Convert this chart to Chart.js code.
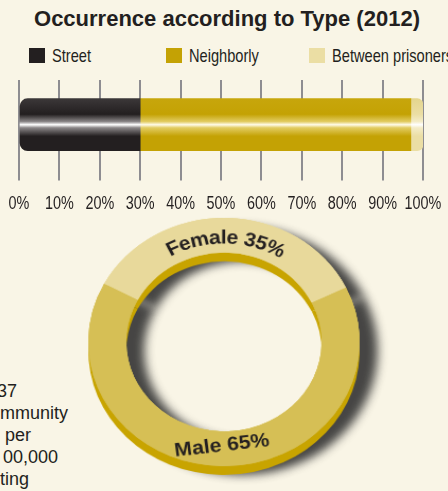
<!DOCTYPE html>
<html>
<head>
<meta charset="utf-8">
<script src="https://cdn.jsdelivr.net/npm/chart.js@4.4.1/dist/chart.umd.min.js"></script>
<style>
  html, body { margin: 0; padding: 0; }
  body { width: 448px; height: 491px; background: #f9f5e6; position: relative; overflow: hidden;
         font-family: "Liberation Sans", Arial, sans-serif; color: #231f20; }
  #title { position: absolute; top: 6px; left: 0; width: 454px; text-align: center;
           font-weight: bold; font-size: 22px; line-height: 26px; }
  .leg { position: absolute; top: 48px; height: 15px; white-space: nowrap; }
  .leg i { position: absolute; left: 0; top: 0; width: 16px; height: 15px; }
  .leg span { position: absolute; left: 23px; top: -3px; font-size: 19px; line-height: 22px;
              transform: scaleX(0.77); transform-origin: 0 0; }
  #barBox { position: absolute; left: 0; top: 78px; width: 448px; height: 147px; }
  #ringBox { position: absolute; left: 0; top: 205px; width: 448px; height: 286px;
             transform: scale(1.06, 0.97); transform-origin: 225px 137px; }
  #side { position: absolute; left: 0; top: 380px; font-size: 18px; line-height: 22px; white-space: pre; }
</style>
</head>
<body>
<div id="title"></div>
<div id="legend"></div>
<div id="side"></div>
<div id="barBox"><canvas id="typeChart"></canvas></div>
<div id="ringBox"><canvas id="genderChart"></canvas></div>
<script>
// data
var titleText = 'Occurrence according to Type (2012)';
var years = ['2012'];
var typeLabels = ['Street', 'Neighborly', 'Between prisoners'];
var typeShares = [30, 67, 3];
var typeColors = ['#231f20', '#c4a204', '#ebdea4'];
var tickValues = [0, 10, 20, 30, 40, 50, 60, 70, 80, 90, 100];

var genderLabels = ['Female', 'Male'];
var genderShares = [35, 65];
var genderColors = ['#e8d99b', '#d6bf55'];

var sideLines = ['37', 'mmunity', ' per', '00,000', 'ting'];

// texts around the charts
document.getElementById('title').textContent = titleText;
var legendLeft = [29, 166, 309];
var legendHtml = '';
typeLabels.forEach(function (l, i) {
    legendHtml += '<div class="leg" style="left:' + legendLeft[i] + 'px"><i style="background:' +
        typeColors[i] + '"></i><span>' + l + '</span></div>';
});
document.getElementById('legend').innerHTML = legendHtml;
var sideShift = [-3, 0, 0, 3, 0];
document.getElementById('side').innerHTML = sideLines.map(function (s, i) {
    return '<div style="margin-left:' + sideShift[i] + 'px">' + s + '</div>';
}).join('');

var shine = [
    ['#3b3738', '#231f20', '#8a8687', '#ffffff'],
    ['#c7a60c', '#c4a204', '#e2cc62', '#fffbe8'],
    ['#e4d58e', '#ebdea4', '#f4ecc8', '#ffffff']
];

function cylinder(i) {
    return function (c) {
        var chart = c.chart;
        var area = chart.chartArea;
        if (!area) return typeColors[i];
        var yc = chart.scales.y.getPixelForValue(0);
        var g = chart.ctx.createLinearGradient(0, yc - 26, 0, yc + 26);
        var s = shine[i];
        g.addColorStop(0, s[0]);
        g.addColorStop(0.3, s[1]);
        g.addColorStop(0.44, s[2]);
        g.addColorStop(0.5, s[3]);
        g.addColorStop(0.56, s[2]);
        g.addColorStop(0.72, s[1]);
        g.addColorStop(1, s[1]);
        return g;
    };
}

function pct(v) { return v + '%'; }

// condensed tick labels (no narrow font installed, so squeeze them)
var narrowTicks = {
    id: 'narrowTicks',
    afterDraw: function (chart) {
        var xs = chart.scales.x;
        var ctx = chart.ctx;
        ctx.save();
        ctx.fillStyle = '#231f20';
        ctx.font = '18px "Liberation Sans", Arial, sans-serif';
        ctx.textAlign = 'center';
        ctx.textBaseline = 'alphabetic';
        var base = chart.chartArea.bottom + 40;
        xs.ticks.forEach(function (t, i) {
            ctx.save();
            ctx.translate(xs.getPixelForTick(i), base);
            ctx.scale(0.8, 1);
            ctx.fillText(pct(t.value), 0, 0);
            ctx.restore();
        });
        ctx.restore();
    }
};

new Chart(document.getElementById('typeChart').getContext('2d'), {
    type: 'bar',
    data: {
        labels: years,
        datasets: typeLabels.map(function (l, i) {
            return {
                label: l,
                data: [typeShares[i]],
                backgroundColor: cylinder(i),
                barThickness: 52,
                borderSkipped: false,
                borderRadius: i === 0 ? { topLeft: 8, bottomLeft: 8 } :
                              i === 2 ? { topRight: 10, bottomRight: 10 } : 0
            };
        })
    },
    options: {
        indexAxis: 'y',
        responsive: true,
        maintainAspectRatio: false,
        animation: false,
        layout: { padding: { left: 19, right: 25, top: 2, bottom: 3 } },
        plugins: { legend: { display: false }, title: { display: false }, tooltip: { enabled: false } },
        scales: {
            x: {
                stacked: true,
                min: 0,
                max: 100,
                afterBuildTicks: function (axis) {
                    axis.ticks = tickValues.map(function (v) { return { value: v }; });
                },
                afterFit: function (axis) {
                    axis.paddingLeft = 0;
                    axis.paddingRight = 0;
                },
                ticks: {
                    callback: pct,
                    font: { family: '"Liberation Sans", Arial, sans-serif', size: 18 },
                    color: 'rgba(0,0,0,0)',
                    padding: 10,
                    autoSkip: false,
                    maxRotation: 0
                },
                grid: { color: '#8e8d91', lineWidth: 2, tickLength: 11 },
                border: { display: false }
            },
            y: { stacked: true, display: false }
        }
    },
    plugins: [narrowTicks]
});

// ring drawn with depth and a drop shadow
var ringDepth = {
    id: 'ringDepth',
    beforeDatasetsDraw: function (chart) {
        var ctx = chart.ctx;
        var arcs = chart.getDatasetMeta(0).data;
        ctx.save();
        ctx.shadowColor = 'rgba(50,50,50,0.9)';
        ctx.shadowOffsetX = 17;
        ctx.shadowOffsetY = 9;
        ctx.shadowBlur = 10;
        arcs.forEach(function (a) { a.draw(ctx); });
        ctx.restore();
        ctx.save();
        ctx.shadowColor = '#c8a400';
        ctx.shadowOffsetX = 0;
        ctx.shadowOffsetY = 9;
        ctx.shadowBlur = 0;
        arcs.forEach(function (a) { a.draw(ctx); });
        ctx.restore();
    },
    afterDatasetsDraw: function (chart) {
        var ctx = chart.ctx;
        var arcs = chart.getDatasetMeta(0).data;
        ctx.save();
        ctx.fillStyle = '#231f20';
        ctx.font = 'bold 20px "Liberation Sans", Arial, sans-serif';
        ctx.textAlign = 'center';
        ctx.textBaseline = 'middle';
        arcs.forEach(function (a, i) {
            var text = genderLabels[i] + ' ' + genderShares[i] + '%';
            var mid = (a.startAngle + a.endAngle) / 2;
            var r = (a.innerRadius + a.outerRadius) / 2 - 3;
            if (Math.sin(mid) < 0) {
                // curved along the top of the ring
                var total = ctx.measureText(text).width;
                var ang = mid - total / 2 / r;
                for (var k = 0; k < text.length; k++) {
                    var cw = ctx.measureText(text[k]).width;
                    var t = ang + cw / 2 / r;
                    ctx.save();
                    ctx.translate(a.x + r * Math.cos(t), a.y + r * Math.sin(t));
                    ctx.rotate(t + Math.PI / 2);
                    ctx.fillText(text[k], 0, 0);
                    ctx.restore();
                    ang += cw / r;
                }
            } else {
                ctx.save();
                ctx.translate(a.x + r * Math.cos(mid), a.y + r * Math.sin(mid));
                ctx.rotate(-7 * Math.PI / 180);
                ctx.fillText(text, 0, 0);
                ctx.restore();
            }
        });
        ctx.restore();
    }
};

new Chart(document.getElementById('genderChart').getContext('2d'), {
    type: 'doughnut',
    data: {
        labels: genderLabels,
        datasets: [{
            data: genderShares,
            backgroundColor: genderColors,
            borderWidth: 0
        }]
    },
    options: {
        responsive: true,
        maintainAspectRatio: false,
        animation: false,
        rotation: -62,
        cutout: '72%',
        layout: { padding: { top: 9, bottom: 21 } },
        plugins: { legend: { display: false }, tooltip: { enabled: false } }
    },
    plugins: [ringDepth]
});
</script>
</body>
</html>
